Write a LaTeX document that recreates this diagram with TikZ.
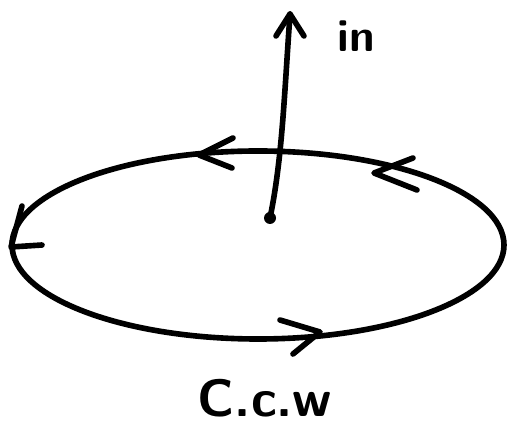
\documentclass[tikz,border=0pt]{standalone}
\usetikzlibrary{arrows.meta}
\begin{document}
\begin{tikzpicture}[x=0.02cm, y=-0.02cm, line width=3.2pt, line cap=round, line join=round,
    chev/.style={line width=3.2pt}]
    \useasboundingbox (0,0) rectangle (507,428);
    % loop
    \draw (258,245) ellipse [x radius=246, y radius=94];
    \draw[chev] (233,138) -- (199,155) -- (232,168);
    \draw[chev] (413,158) -- (374,173) -- (417,190);
    \draw[chev] (22,206) -- (11,247) -- (42,245);
    \draw[chev] (280,320) -- (320,332) -- (293,354);
    % axis
    \coordinate (c) at (270,218);
    \coordinate (t) at (290,14);
    \fill (c) circle (6);
    \draw (c) .. controls (282,160) and (284,100) .. (t);
    \draw[chev] (276,36) -- (t) -- (304,36);
    \node[font=\sffamily\bfseries\fontsize{26}{30}\selectfont] (in) at (356,36) {in};
    \node[font=\sffamily\bfseries\fontsize{30}{34}\selectfont] (ccw) at (265,398) {C.c.w};
\end{tikzpicture}
\end{document}
